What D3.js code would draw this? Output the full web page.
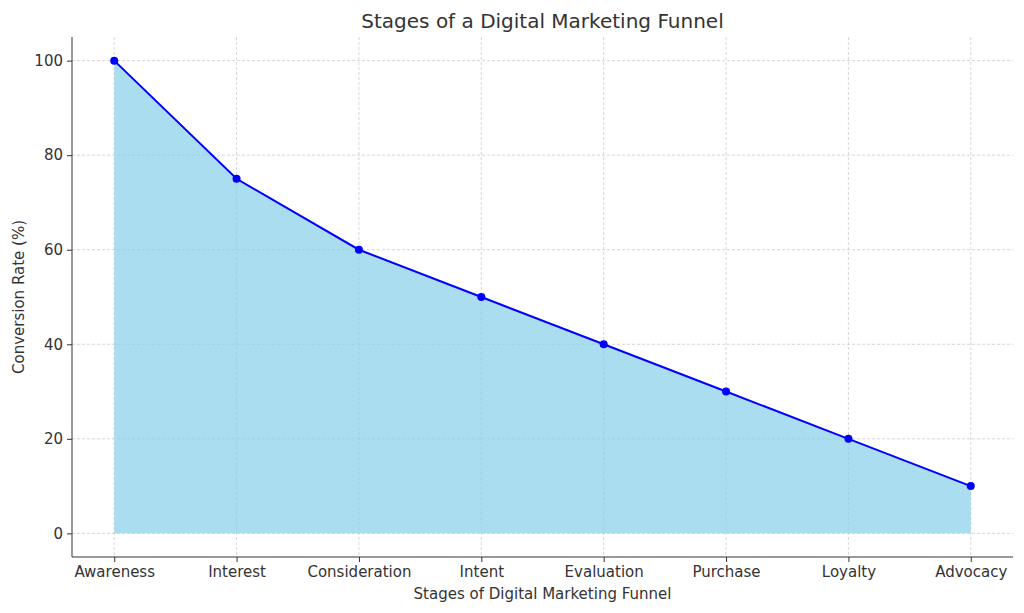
<!DOCTYPE html>
<html><head><meta charset="utf-8">
<script src="https://cdn.jsdelivr.net/npm/d3@7"></script>
<style>body{margin:0;background:#fff;font-family:"DejaVu Sans",sans-serif}</style>
</head><body><div id="chart"></div>
<script>
const stages = ['Awareness', 'Interest', 'Consideration', 'Intent', 'Evaluation', 'Purchase', 'Loyalty', 'Advocacy'];
const rates = [100, 75, 60, 50, 40, 30, 20, 10];
const yTicks = [0, 20, 40, 60, 80, 100];

const width = 1024, height = 613;
const margin = { top: 37, right: 11, bottom: 56, left: 72 };
const w = width - margin.left - margin.right;
const h = height - margin.top - margin.bottom;

const svg = d3.select('#chart').append('svg')
  .attr('width', width).attr('height', height);
const g = svg.append('g').attr('transform', `translate(${margin.left},${margin.top})`);

const x = d3.scalePoint().domain(stages).range([0, w]).padding(0.345);
const y = d3.scaleLinear().domain([-5, 105]).range([h, 0]);

// grid
g.append('g').selectAll('line').data(yTicks).join('line')
  .attr('x1', 0).attr('x2', w).attr('y1', d => y(d)).attr('y2', d => y(d))
  .attr('stroke', '#ccc').attr('stroke-dasharray', '3,2').attr('stroke-width', 0.8);
g.append('g').selectAll('line').data(stages).join('line')
  .attr('y1', 0).attr('y2', h).attr('x1', d => x(d)).attr('x2', d => x(d))
  .attr('stroke', '#ccc').attr('stroke-dasharray', '3,2').attr('stroke-width', 0.8);

const pts = stages.map((s, i) => ({ s, v: rates[i] }));
g.append('path').datum(pts)
  .attr('d', d3.area().x(d => x(d.s)).y0(y(0)).y1(d => y(d.v)))
  .attr('fill', '#87ceeb').attr('fill-opacity', 0.7);
g.append('path').datum(pts)
  .attr('d', d3.line().x(d => x(d.s)).y(d => y(d.v)))
  .attr('fill', 'none').attr('stroke', 'blue').attr('stroke-width', 2);
g.selectAll('circle').data(pts).join('circle')
  .attr('cx', d => x(d.s)).attr('cy', d => y(d.v)).attr('r', 4).attr('fill', 'blue');

const xa = g.append('g').attr('transform', `translate(0,${h})`)
  .call(d3.axisBottom(x).tickSizeOuter(0).tickSize(5).tickPadding(4));
const ya = g.append('g').call(d3.axisLeft(y).tickValues(yTicks).tickSizeOuter(0).tickSize(5).tickPadding(4));
[xa, ya].forEach(a => {
  a.selectAll('text').attr('font-size', 15).attr('fill', '#333').attr('font-family', 'DejaVu Sans');
  a.selectAll('line').attr('stroke', '#333');
  a.select('.domain').attr('stroke', '#333');
});
// close the box only on left/bottom like reference
ya.select('.domain').attr('d', `M0,0V${h}`);
xa.select('.domain').attr('d', `M0,0H${w}`);

svg.append('text').attr('x', margin.left + w / 2).attr('y', 28).attr('text-anchor', 'middle')
  .attr('font-size', 20).attr('fill', '#333').text('Stages of a Digital Marketing Funnel');
svg.append('text').attr('x', margin.left + w / 2).attr('y', 599).attr('text-anchor', 'middle')
  .attr('font-size', 15).attr('fill', '#333').text('Stages of Digital Marketing Funnel');
svg.append('text').attr('transform', `translate(24,${margin.top + h / 2}) rotate(-90)`)
  .attr('text-anchor', 'middle').attr('font-size', 15).attr('fill', '#333').text('Conversion Rate (%)');
</script></body></html>
